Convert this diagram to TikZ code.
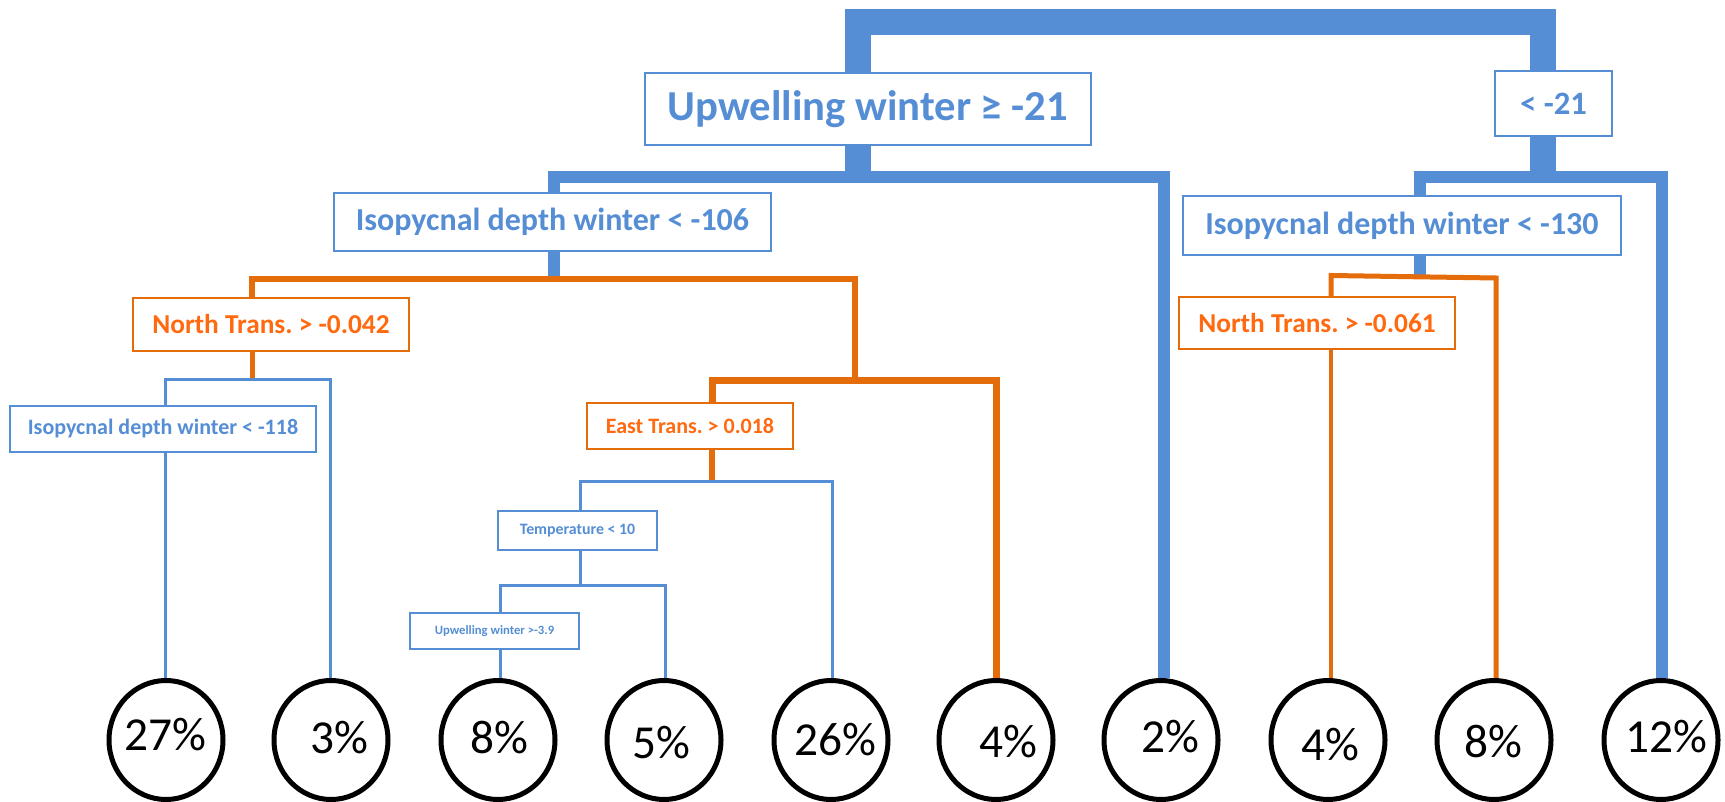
\documentclass[tikz,border=0pt]{standalone}
\usepackage{fontspec}
\setmainfont{Carlito}
\usetikzlibrary{shapes.geometric,backgrounds}
\definecolor{bl}{HTML}{558ED5}
\definecolor{orl}{HTML}{E46C0A}
\definecolor{ort}{HTML}{FF6A10}
\frenchspacing
\tikzset{
  bbox/.style={draw=bl, line width=1.5pt, fill=white, inner sep=0pt, text=bl, font=\bfseries},
  obox/.style={draw=orl, line width=1.5pt, fill=white, inner sep=0pt, text=ort, font=\bfseries},
  leaf/.style={draw=black, line width=3.75pt, ellipse, inner sep=0pt, minimum width=85.5pt, minimum height=89.25pt},
  pct/.style={anchor=base, inner sep=0pt, font=\fontsize{35.5}{36}\selectfont},
  tb/.style={draw=bl, line width=19.5pt, line join=miter},
  mb/.style={draw=bl, line width=9pt, line join=miter},
  thb/.style={draw=bl, line width=2.25pt, line join=miter},
  ob/.style={draw=orl, line width=#1, line join=miter},
}
\begin{document}
\begin{tikzpicture}[x=0.75pt,y=-0.75pt]
\useasboundingbox (0,0) rectangle (1725,802);
% decision boxes
\node[bbox, minimum width=334.5pt, minimum height=54pt, font=\bfseries\fontsize{32}{34}\selectfont] (root) at (868,109) {Upwelling winter ≥ -21};
\node[bbox, minimum width=87.75pt, minimum height=48.75pt, font=\bfseries\fontsize{24.5}{26}\selectfont] (lt21) at (1553.5,103.5) {< -21};
\node[bbox, minimum width=327.75pt, minimum height=43.5pt, font=\bfseries\fontsize{24}{25}\selectfont] (iso106) at (552.5,222) {Isopycnal depth winter < -106};
\node[bbox, minimum width=328.5pt, minimum height=44.25pt, font=\bfseries\fontsize{24}{25}\selectfont] (iso130) at (1402,225.5) {Isopycnal depth winter < -130};
\node[obox, minimum width=207pt, minimum height=39.75pt, font=\bfseries\fontsize{20.5}{22}\selectfont] (nt042) at (271,324.5) {North Trans. > -0.042};
\node[obox, minimum width=207pt, minimum height=39pt, font=\bfseries\fontsize{20.5}{22}\selectfont] (nt061) at (1317,323.5) {North Trans. > -0.061};
\node[bbox, minimum width=229.5pt, minimum height=34.5pt, font=\bfseries\fontsize{16.5}{18}\selectfont] (iso118) at (163,429) {Isopycnal depth winter < -118};
\node[obox, minimum width=154.5pt, minimum height=34.5pt, font=\bfseries\fontsize{16.5}{18}\selectfont] (east) at (690,426) {East Trans. > 0.018};
\node[bbox, minimum width=119.25pt, minimum height=29.25pt, font=\bfseries\fontsize{11.9}{13}\selectfont] (temp) at (577.5,530.5) {Temperature < 10};
\node[bbox, minimum width=126.75pt, minimum height=27pt, font=\bfseries\fontsize{9.5}{11}\selectfont] (upw39) at (494.5,631) {Upwelling winter >-3.9};
% leaves
\node[leaf] (l1) at (166,740) {};
\node[leaf] (l2) at (331,740) {};
\node[leaf] (l3) at (498,740) {};
\node[leaf] (l4) at (664,740) {};
\node[leaf] (l5) at (831,740) {};
\node[leaf] (l6) at (996,740) {};
\node[leaf] (l7) at (1161,740) {};
\node[leaf] (l8) at (1328,740) {};
\node[leaf] (l9) at (1494,740) {};
\node[leaf] (l10) at (1661,740) {};
\node[pct] (p1) at (165,750) {27\%};
\node[pct] (p2) at (339,753) {3\%};
\node[pct] (p3) at (499,753) {8\%};
\node[pct] (p4) at (661,758) {5\%};
\node[pct] (p5) at (835,755) {26\%};
\node[pct] (p6) at (1008,757) {4\%};
\node[pct] (p7) at (1170,752) {2\%};
\node[pct] (p8) at (1330,760) {4\%};
\node[pct] (p9) at (1493,757) {8\%};
\node[pct] (p10) at (1666,752) {12\%};
% branch points
\coordinate (a1) at (858,22.5);
\coordinate (a2) at (1542.5,22.5);
\coordinate (b1) at (554,177);
\coordinate (b2) at (1163.5,177);
\coordinate (c1) at (252,279);
\coordinate (c2) at (855,279);
\coordinate (d1) at (712,381);
\coordinate (d2) at (855,381);
\coordinate (d3) at (996,381);
\coordinate (e0) at (252,379.5);
\coordinate (e1) at (165,379.5);
\coordinate (e2) at (330,379.5);
\coordinate (f0) at (712,481);
\coordinate (f1) at (580,481);
\coordinate (f2) at (832,481);
\coordinate (g0) at (580,585);
\coordinate (g1) at (500,585);
\coordinate (g2) at (665,585);
\coordinate (h1) at (1420,177);
\coordinate (h2) at (1662,177);
\coordinate (i0) at (1420,276);
\coordinate (i1) at (1331,275.5);
\coordinate (i2) at (1496,278);
\begin{pgfonlayer}{background}
\fill[white] (0,0) rectangle (1725,802);
% top level
\draw[tb] (root.north -| a1) -- (a1) -- (a2) -- (lt21.north -| a2);
\draw[tb] (root.south -| a1) -- (a1 |- b1);
\draw[tb] (lt21.south -| a2) -- (a2 |- h1);
% left second level
\draw[mb] (iso106.north -| b1) -- (b1) -- (b2) -- (l7.north -| b2);
\draw[mb] (iso106.south -| b1) -- (b1 |- c1);
\draw[ob=4.5pt] (nt042.north -| c1) -- (c1) -- (c2) -- (d2);
\draw[ob=5.25pt] (east.north -| d1) -- (d1) -- (d3) -- (l6.north -| d3);
\draw[ob=3.75pt] (nt042.south -| c1) -- (e0);
\draw[thb] (iso118.north -| e1) -- (e1) -- (e2) -- (l2.north -| e2);
\draw[thb] (iso118.south -| e1) -- (l1.north -| e1);
\draw[ob=4.5pt] (east.south -| d1) -- (f0);
\draw[thb] (temp.north -| f1) -- (f1) -- (f2) -- (l5.north -| f2);
\draw[thb] (temp.south -| f1) -- (g0);
\draw[thb] (upw39.north -| g1) -- (g1) -- (g2) -- (l4.north -| g2);
\draw[thb] (upw39.south -| g1) -- (l3.north -| g1);
% right second level
\draw[mb] (iso130.north -| h1) -- (h1) -- (h2) -- (l10.north -| h2);
\draw[mb] (iso130.south -| h1) -- (i0);
\draw[ob=3.75pt] (nt061.north -| i1) -- (i1) -- (i2) -- (l9.north -| i2);
\draw[ob=3pt] (nt061.south -| i1) -- (l8.north -| i1);
\end{pgfonlayer}
\end{tikzpicture}
\end{document}
